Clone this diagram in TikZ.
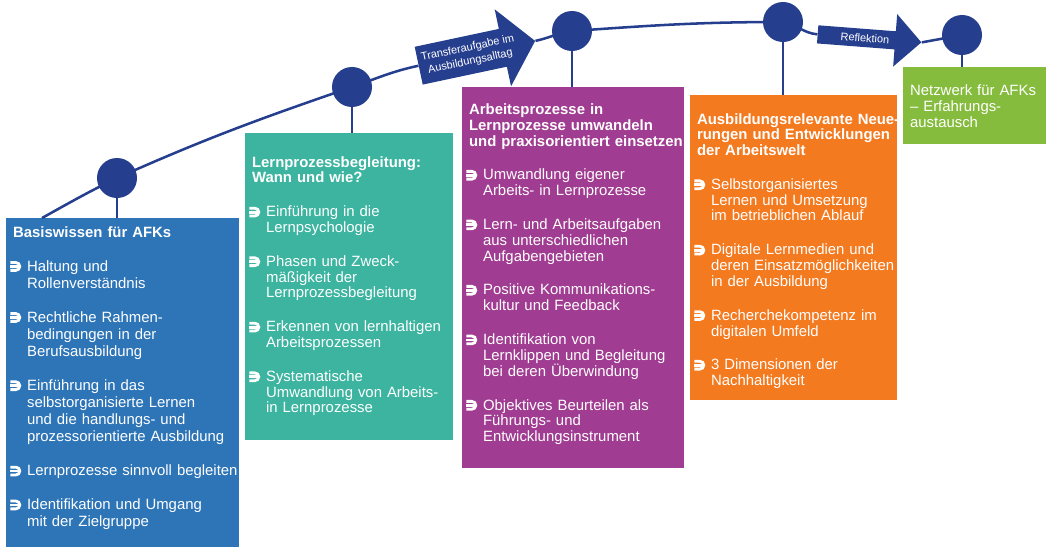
\documentclass[tikz,border=0pt]{standalone}
\usepackage{fontspec}
\setmainfont{Liberation Sans}
\usetikzlibrary{shapes.arrows,positioning}

\definecolor{nachtblau}{RGB}{38,62,142}
\definecolor{kastenblau}{RGB}{46,117,184}
\definecolor{kastentuerkis}{RGB}{60,180,160}
\definecolor{kastenlila}{RGB}{160,60,145}
\definecolor{kastenorange}{RGB}{244,122,32}
\definecolor{kastengruen}{RGB}{134,188,62}

% Aufzaehlungszeichen: Haken mit Querstrich
\newcommand{\pfeil}{\tikz[x=1cm,y=1cm,baseline=0pt,white,line width=2pt]{%
  \draw (0,0.215) -- (0.135,0.215) arc (90:-90:0.0975) -- (0,0.02);
  \draw (0,0.1175) -- (0.2,0.1175);}}
\newcommand{\titel}[1]{{\bfseries\leftskip=0.1cm\noindent\rule{0pt}{8pt}#1\par}}
\newcommand{\punkt}[1]{\par\vspace{\dimexpr24.1pt-\baselineskip\relax}%
  {\let\\\newline\hangindent=0.45cm\hangafter=1\noindent\makebox[0.45cm][l]{\pfeil}#1\par}}

\begin{document}
\begin{tikzpicture}[x=0.025cm,y=0.025cm,
    bahn/.style={nachtblau,line width=1.8pt},
    knoten/.style={circle,fill=nachtblau,minimum size=1cm,inner sep=0pt},
    kasten/.style={anchor=north west,inner sep=0pt},
    inhalt/.style={anchor=north west,align=left,text=white,inner xsep=0.07cm,
      font=\fontsize{10.6}{11.2}\selectfont},
    block/.style={single arrow,fill=nachtblau,text=white,align=center,
      font=\fontsize{7.8}{9.8}\selectfont,single arrow head indent=0pt,inner xsep=1pt}]
  \useasboundingbox (0,0) rectangle (1054,-547);

  % Kaesten
  \node[kasten,fill=kastenblau,minimum width=5.825cm,minimum height=8.225cm] (k1) at (6,-218) {};
  \node[kasten,fill=kastentuerkis,minimum width=5.2cm,minimum height=7.675cm] (k2) at (245,-133) {};
  \node[kasten,fill=kastenlila,minimum width=5.55cm,minimum height=9.525cm] (k3) at (462,-87) {};
  \node[kasten,fill=kastenorange,minimum width=5.175cm,minimum height=7.625cm] (k4) at (690,-95) {};
  \node[kasten,fill=kastengruen,minimum width=3.575cm,minimum height=1.925cm] (k5) at (903,-67) {};

  % Stationen
  \node[knoten] (p1) at (117,-178) {};
  \node[knoten] (p2) at (352,-87) {};
  \node[knoten] (p3) at (572,-31) {};
  \node[knoten] (p4) at (783,-22) {};
  \node[knoten] (p5) at (962,-35) {};

  % Pfeile
  \node[block,rotate=12,minimum height=2.975cm,inner ysep=5pt,
    single arrow head extend=0.5cm,single arrow tip angle=100] (a1) at (469,-55)
    {Transferaufgabe im\\Ausbildungsalltag};
  \node[block,rotate=-4.4,minimum height=2.6cm,inner ysep=3.4pt,
    single arrow head extend=0.43cm] (a2) at (865,-38) {Reflektion};

  % Weg
  \coordinate (anfang) at (42,-218);
  \draw[bahn] (anfang) to[out=29,in=206] (p1.center) to[out=24,in=199] (p2.center)
    to[out=19,in=192] (a1.tail);
  \draw[bahn] (a1.tip) to[out=12,in=188] (p3.center) to[out=4,in=180] (p4.center)
    to[out=-10,in=175] (a2.tail);
  \draw[bahn] (a2.tip) -- (p5.center);
  \foreach \i in {1,...,5}
    \draw[bahn] (p\i.center) -- (p\i |- k\i.north);

  % Inhalte
  \node[inhalt,text width=5.9cm,inner ysep=5.5pt,font=\fontsize{10.6}{12.2}\selectfont]
    (t1) at (k1.north west) {%
    \titel{Basiswissen für AFKs}
    \punkt{Haltung und\\Rollenverständnis}
    \punkt{Rechtliche Rahmen-\\bedingungen in der\\Berufsausbildung}
    \punkt{Einführung in das\\selbstorganisierte Lernen\\und die handlungs- und\\prozessorientierte Ausbildung}
    \punkt{Lernprozesse sinnvoll begleiten}
    \punkt{Identifikation und Umgang\\mit der Zielgruppe}};
  \node[inhalt,text width=5.3cm,inner ysep=16.1pt] (t2) at (k2.north west) {%
    \titel{Lernprozessbegleitung:\\Wann und wie?}
    \punkt{Einführung in die\\Lernpsychologie}
    \punkt{Phasen und Zweck-\\mäßigkeit der\\Lernprozessbegleitung}
    \punkt{Erkennen von lernhaltigen\\Arbeitsprozessen}
    \punkt{Systematische\\Umwandlung von Arbeits-\\in Lernprozesse}};
  \node[inhalt,text width=5.6cm,inner ysep=11.4pt] (t3) at (k3.north west) {%
    \titel{Arbeitsprozesse in\\Lernprozesse umwandeln\\und praxisorientiert einsetzen}
    \punkt{Umwandlung eigener\\Arbeits- in Lernprozesse}
    \punkt{Lern- und Arbeitsaufgaben\\aus unterschiedlichen\\Aufgabengebieten}
    \punkt{Positive Kommunikations-\\kultur und Feedback}
    \punkt{Identifikation von\\Lernklippen und Begleitung\\bei deren Überwindung}
    \punkt{Objektives Beurteilen als\\Führungs- und\\Entwicklungsinstrument}};
  \node[inhalt,text width=5.3cm,inner ysep=12.5pt] (t4) at (k4.north west) {%
    \titel{Ausbildungsrelevante Neue-\\rungen und Entwicklungen\\der Arbeitswelt}
    \punkt{Selbstorganisiertes\\Lernen und Umsetzung\\im betrieblichen Ablauf}
    \punkt{Digitale Lernmedien und\\deren Einsatzmöglichkeiten\\in der Ausbildung}
    \punkt{Recherchekompetenz im\\digitalen Umfeld}
    \punkt{3 Dimensionen der\\Nachhaltigkeit}};
  \node[inhalt,text width=3.6cm,inner ysep=11.9pt,
    font=\fontsize{10.6}{11.35}\selectfont] (t5) at (k5.north west) {%
    {\leftskip=0.1cm\noindent\rule{0pt}{8pt}Netzwerk für AFKs\\– Erfahrungs-\\austausch\par}};
\end{tikzpicture}
\end{document}
